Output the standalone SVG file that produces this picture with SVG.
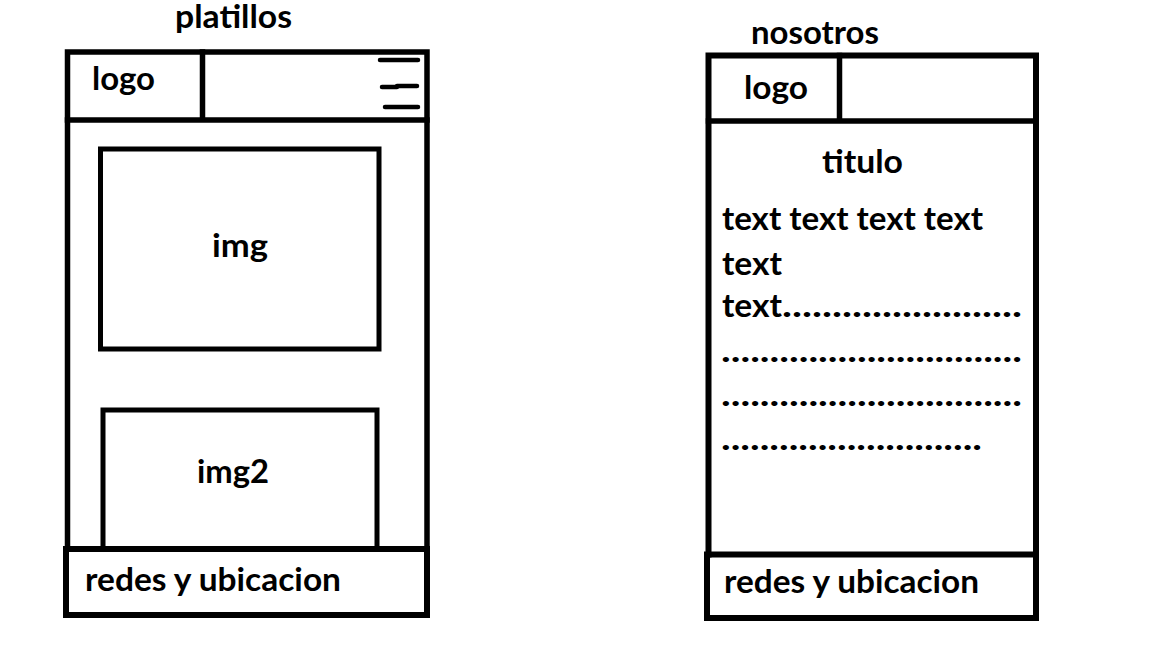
<svg xmlns="http://www.w3.org/2000/svg" width="1152" height="648" viewBox="0 0 1152 648">
<style>
.frame{fill:none;stroke:#000;stroke-width:5.5;stroke-linecap:square}
.box{fill:none;stroke:#000;stroke-width:5}
.bar{fill:none;stroke:#000;stroke-width:4.5;stroke-linecap:round}
.t{font-family:Lato,"Open Sans","Liberation Sans",sans-serif;font-weight:bold;font-size:33px;fill:#000}
</style>
<rect width="1152" height="648" fill="#fff"/>
<g id="connectors"/>
<g id="page-platillos">
  <text class="t" x="175" y="28" textLength="117" lengthAdjust="spacingAndGlyphs">platillos</text>
  <g id="platillos-frame">
    <path class="frame" d="M67.5,549 V52 H427 V549"/>
  </g>
  <g id="platillos-header">
    <path class="frame" d="M67.5,120 H427 M202.5,52 V120"/>
    <text class="t" x="92" y="90" textLength="63" lengthAdjust="spacingAndGlyphs">logo</text>
    <path class="bar" d="M380,60 H418 M382,87 H397 M397,86 H417 M385,107 H418"/>
  </g>
  <g id="platillos-img">
    <rect class="box" x="100.5" y="149" width="278.5" height="200"/>
    <text class="t" x="212" y="257" textLength="56" lengthAdjust="spacingAndGlyphs">img</text>
  </g>
  <g id="platillos-img2">
    <path class="box" d="M103,549 V410 H377 V549"/>
    <text class="t" x="197" y="483" textLength="72" lengthAdjust="spacingAndGlyphs">img2</text>
  </g>
  <g id="platillos-footer">
    <rect class="frame" x="66" y="549" width="361" height="66" style="stroke-width:6"/>
    <text class="t" x="85" y="591" textLength="256" lengthAdjust="spacingAndGlyphs">redes y ubicacion</text>
  </g>
</g>
<g id="page-nosotros">
  <text class="t" x="751" y="44" textLength="128" lengthAdjust="spacingAndGlyphs">nosotros</text>
  <g id="nosotros-frame">
    <path class="frame" d="M708.5,554.5 V55.5 H1036 V554.5" style="stroke-width:6"/>
  </g>
  <g id="nosotros-header">
    <path class="frame" d="M708.5,121 H1036 M839.5,55.5 V121"/>
    <text class="t" x="744" y="99" textLength="64" lengthAdjust="spacingAndGlyphs">logo</text>
  </g>
  <g id="nosotros-content">
    <text class="t" x="822" y="173" textLength="81" lengthAdjust="spacingAndGlyphs">titulo</text>
    <text class="t" x="722" y="230" textLength="261" lengthAdjust="spacingAndGlyphs">text text text text</text>
    <text class="t" x="722" y="275" textLength="60" lengthAdjust="spacingAndGlyphs">text</text>
    <text class="t" x="722" y="317"><tspan textLength="60" lengthAdjust="spacingAndGlyphs">text</tspan><tspan x="782" textLength="240" lengthAdjust="spacingAndGlyphs">........................</tspan></text>
    <text class="t" x="721" y="362" textLength="301" lengthAdjust="spacingAndGlyphs">...............................</text>
    <text class="t" x="721" y="406" textLength="301" lengthAdjust="spacingAndGlyphs">...............................</text>
    <text class="t" x="721" y="450" textLength="261" lengthAdjust="spacingAndGlyphs">...........................</text>
  </g>
  <g id="nosotros-footer">
    <rect class="frame" x="707" y="554.5" width="329" height="63.5" style="stroke-width:6"/>
    <text class="t" x="724" y="593" textLength="255" lengthAdjust="spacingAndGlyphs">redes y ubicacion</text>
  </g>
</g>
</svg>
